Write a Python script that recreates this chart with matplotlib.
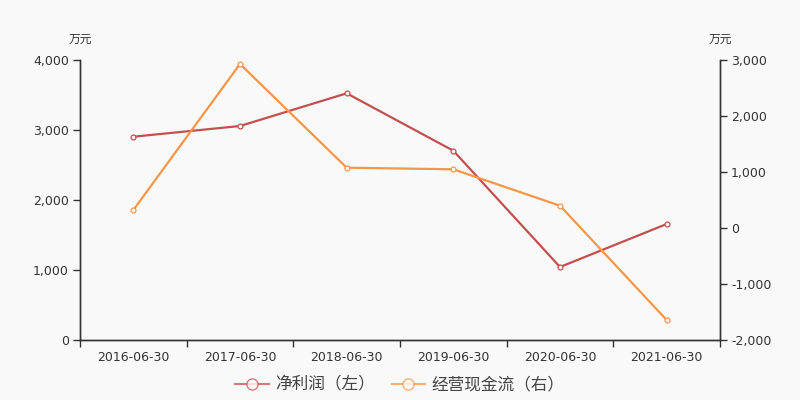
import matplotlib
matplotlib.use("Agg")
import matplotlib.pyplot as plt
from matplotlib.ticker import FuncFormatter, FixedLocator
from matplotlib.lines import Line2D

plt.rcParams['font.family'] = ['DejaVu Sans', 'Noto Sans CJK SC']

categories = ["2016-06-30", "2017-06-30", "2018-06-30", "2019-06-30", "2020-06-30", "2021-06-30"]
net_profit = [2904, 3057, 3524, 2704, 1043, 1657]
op_cash = [321, 2929, 1077, 1048, 398, -1643]
left_ticks = [0, 1000, 2000, 3000, 4000]
right_ticks = [-2000, -1000, 0, 1000, 2000, 3000]

bg = "#f9f9f9"
red = "#c44f4f"
orange = "#f79646"
axis_c = "#333333"
text_c = "#333333"

fig = plt.figure(figsize=(8, 4), dpi=100, facecolor=bg)
ax = fig.add_axes([80/800, 60/400, 640/800, 280/400])
ax.set_facecolor(bg)
ax2 = ax.twinx()

x = list(range(len(categories)))
ax.plot(x, net_profit, color=red, lw=1.6, marker='o', ms=3.5, mfc='white', mec=red, mew=0.9, zorder=3)
ax2.plot(x, op_cash, color=orange, lw=1.6, marker='o', ms=3.5, mfc='white', mec=orange, mew=0.9, zorder=3)

ax.set_xlim(-0.5, len(categories) - 0.5)
ax.set_ylim(0, 4000)
ax2.set_ylim(-2000, 3000)
ax.set_yticks(left_ticks)
ax2.set_yticks(right_ticks)
fmt = FuncFormatter(lambda v, p: f"{int(v):,}")
ax.yaxis.set_major_formatter(fmt)
ax2.yaxis.set_major_formatter(fmt)

ax.set_xticks(x)
ax.set_xticklabels(categories)
ax.tick_params(axis='x', length=0, pad=8, labelsize=9, colors=text_c)
ax.xaxis.set_minor_locator(FixedLocator([i + 0.5 for i in range(len(categories) - 1)] + [-0.5, len(categories) - 0.5]))
ax.tick_params(axis='x', which='minor', length=5, color=axis_c, width=1)

ax.tick_params(axis='y', length=5, width=1, color=axis_c, labelsize=9, labelcolor=text_c, pad=3)
ax2.tick_params(axis='y', length=5, width=1, color=axis_c, labelsize=9, labelcolor=text_c, pad=3)

for a in (ax, ax2):
    a.spines['top'].set_visible(False)
    for s in ('left', 'right', 'bottom'):
        a.spines[s].set_color(axis_c)
        a.spines[s].set_linewidth(1)

fig.text(80/800, 1 - 39/400, "万元", ha='center', va='center', fontsize=8.5, color=text_c,
         family=['Noto Sans CJK SC', 'DejaVu Sans'])
fig.text(720/800, 1 - 39/400, "万元", ha='center', va='center', fontsize=8.5, color=text_c,
         family=['Noto Sans CJK SC', 'DejaVu Sans'])

handles = [
    Line2D([0], [0], color=red, lw=1.5, marker='o', ms=8, mfc='white', mec=red, alpha=0.75),
    Line2D([0], [0], color=orange, lw=1.5, marker='o', ms=8, mfc='white', mec=orange, alpha=0.75),
]
leg = fig.legend(handles, ["净利润（左）", "经营现金流（右）"], loc='center', bbox_to_anchor=(0.5, 1 - 385/400),
                 ncol=2, frameon=False, handlelength=2.0, columnspacing=1.0, handletextpad=0.4,
                 prop={'family': ['Noto Sans CJK SC', 'DejaVu Sans'], 'size': 12})
for t in leg.get_texts():
    t.set_color("#444444")

fig.savefig("out.png", dpi=100, facecolor=bg)
